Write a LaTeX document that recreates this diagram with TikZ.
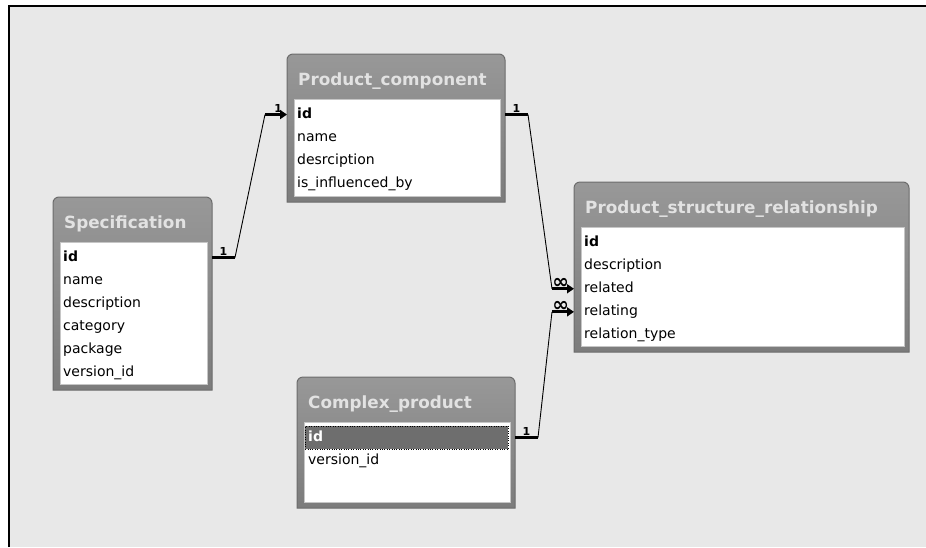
\documentclass[tikz,border=0pt]{standalone}
\usepackage{fontspec}
\setmainfont{DejaVu Sans}
\usetikzlibrary{positioning,arrows.meta,calc}
\definecolor{canvasgray}{HTML}{E8E8E8}
\definecolor{barlight}{HTML}{989898}
\definecolor{bardark}{HTML}{7C7C7C}
\definecolor{baredge}{HTML}{6C6C6C}
\definecolor{titlegray}{HTML}{E2E2E2}
\definecolor{selgray}{HTML}{6E6E6E}
\newcommand{\tableframe}[1]{%
  \path[tabframe] (#1.south west) [rounded corners=6pt] -- (#1.north west)
    -- (#1.north east) -- ([yshift=-12pt]#1.north east) [sharp corners]
    -- (#1.south east) -- cycle;
  \path[fieldarea] ([xshift=7pt,yshift=-45pt]#1.north west)
    rectangle ([xshift=-5pt,yshift=6pt]#1.south east);}

\begin{document}
\begin{tikzpicture}[
  x=1pt, y=-1pt,
  tabnode/.style={inner sep=0pt, outer sep=0pt},
  tabframe/.style={draw=baredge, line width=1pt, top color=barlight, bottom color=bardark},
  fieldarea/.style={fill=white, draw=gray!45, line width=0.8pt},
  title/.style={anchor=base west, text=titlegray, inner sep=0pt, font=\fontsize{16.8}{18}\selectfont\bfseries},
  field/.style={anchor=north west, inner xsep=3pt, inner ysep=0pt, minimum height=22.7pt, text height=10.5pt, text depth=3pt, font=\fontsize{14}{16}\selectfont},
  key/.style={field, font=\fontsize{14}{16}\selectfont\bfseries},
  link/.style={line width=0.9pt},
  stub/.style={line width=3pt},
  card/.style={font=\fontsize{11}{11}\selectfont\bfseries, inner sep=1pt},
  many/.style={font=\fontsize{20}{20}\selectfont\bfseries, inner sep=0pt},
  tip/.style={-{Triangle[length=7pt,width=9pt]}}
]
\useasboundingbox (0,0) rectangle (926,547);
\fill[canvasgray] (9.3,6) rectangle (926,547);
\draw[line width=2pt] (9.3,547) -- (9.3,6) -- (926,6);

% tables
\node[tabnode, minimum width=159pt, minimum height=193pt] (spec) at (132.5,293.5) {};
\node[tabnode, minimum width=218pt, minimum height=148pt] (comp) at (396,128) {};
\node[tabnode, minimum width=335pt, minimum height=170pt] (psr) at (741.5,267) {};
\node[tabnode, minimum width=218pt, minimum height=131pt] (cplx) at (406,442.5) {};
\tableframe{spec}
\tableframe{comp}
\tableframe{psr}
\tableframe{cplx}

\node[title] (spec-title) at ([xshift=11pt,yshift=-31pt]spec.north west) {Specification};
\node[key] (spec-id) at ([xshift=7pt,yshift=-49pt]spec.north west) {id};
\node[field, below=0pt of spec-id.south west, anchor=north west] (spec-name) {name};
\node[field, below=0pt of spec-name.south west, anchor=north west] (spec-desc) {description};
\node[field, below=0pt of spec-desc.south west, anchor=north west] (spec-cat) {category};
\node[field, below=0pt of spec-cat.south west, anchor=north west] (spec-pkg) {package};
\node[field, below=0pt of spec-pkg.south west, anchor=north west] (spec-ver) {version\_id};

\node[title] (comp-title) at ([xshift=11pt,yshift=-31pt]comp.north west) {Product\_component};
\node[key] (comp-id) at ([xshift=7pt,yshift=-49pt]comp.north west) {id};
\node[field, below=0pt of comp-id.south west, anchor=north west] (comp-name) {name};
\node[field, below=0pt of comp-name.south west, anchor=north west] (comp-desc) {desrciption};
\node[field, below=0pt of comp-desc.south west, anchor=north west] (comp-infl) {is\_influenced\_by};

\node[title] (psr-title) at ([xshift=11pt,yshift=-31pt]psr.north west) {Product\_structure\_relationship};
\node[key] (psr-id) at ([xshift=7pt,yshift=-49pt]psr.north west) {id};
\node[field, below=0pt of psr-id.south west, anchor=north west] (psr-desc) {description};
\node[field, below=0pt of psr-desc.south west, anchor=north west] (psr-related) {related};
\node[field, below=0pt of psr-related.south west, anchor=north west] (psr-relating) {relating};
\node[field, below=0pt of psr-relating.south west, anchor=north west] (psr-type) {relation\_type};

\node[title] (cplx-title) at ([xshift=11pt,yshift=-31pt]cplx.north west) {Complex\_product};
\node[key, fill=selgray, draw=black, dotted, text=white, text width=197pt] (cplx-id) at ([xshift=8pt,yshift=-49pt]cplx.north west) {id};
\node[field, below=0pt of cplx-id.south west, anchor=north west] (cplx-ver) {version\_id};

% relationships
\draw[stub] (spec.east |- spec-id) -- node[card, above] {1} ++(23,0) coordinate (spec-out);
\draw[stub, tip] ($(comp.west |- comp-id)+(-22,0)$) coordinate (comp-in) -- node[card, above, pos=.6] {1} (comp.west |- comp-id);
\draw[link] (spec-out) -- (comp-in);

\draw[stub] (comp.east |- comp-id) -- node[card, above] {1} ++(23,0) coordinate (comp-out);
\draw[stub, tip] ($(psr.west |- psr-related)+(-22,0)$) coordinate (psr-in1) -- node[many, above=-1.5pt, pos=.4] {∞} (psr.west |- psr-related);
\draw[link] (comp-out) -- (psr-in1);

\draw[stub] (cplx.east |- cplx-id) -- node[card, above] {1} ++(23,0) coordinate (cplx-out);
\draw[stub, tip] ($(psr.west |- psr-relating)+(-22,0)$) coordinate (psr-in2) -- node[many, above=-1.5pt, pos=.4] {∞} (psr.west |- psr-relating);
\draw[link] (cplx-out) -- (psr-in2);
\end{tikzpicture}
\end{document}
